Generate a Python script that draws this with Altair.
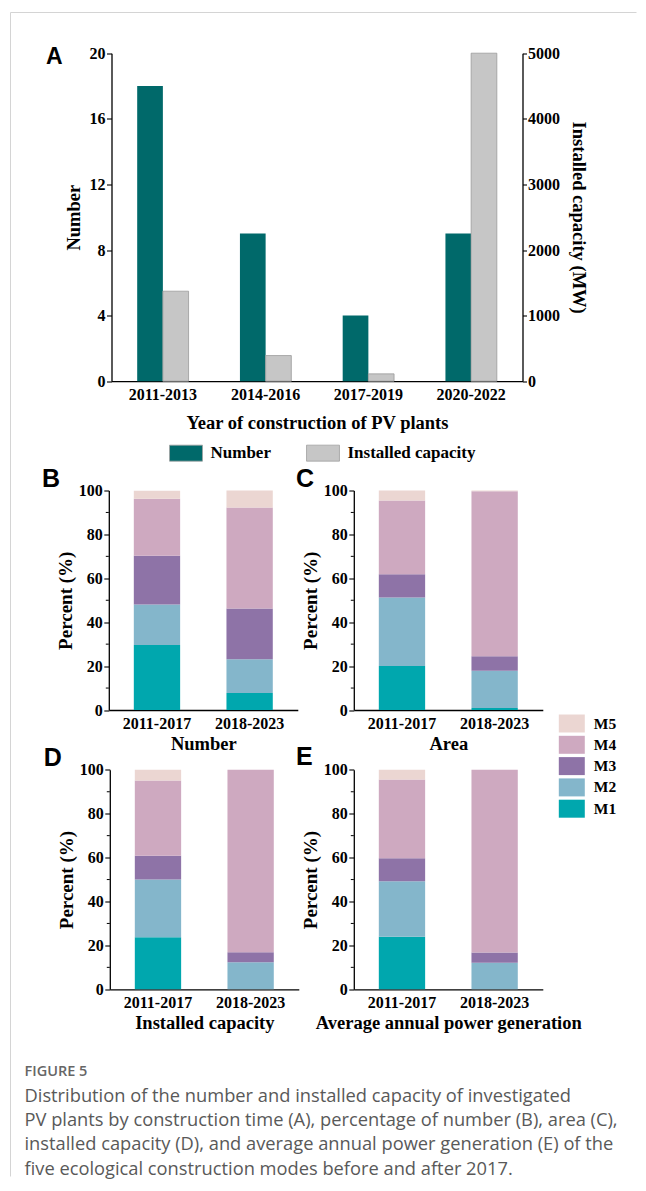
import altair as alt
import pandas as pd

SERIF = "Liberation Serif"
SANS = "Liberation Sans"
CAPF = "Open Sans"
BORDER = "#d4d4d4"

# ---------------- data ----------------
periods_a = ["2011-2013", "2014-2016", "2017-2019", "2020-2022"]
series_a = ["Number", "Installed capacity"]
number_a = [18, 9, 4, 9]
capacity_a = [1372, 391, 112, 5000]

periods_b = ["2011-2017", "2018-2023"]
modes = ["M1", "M2", "M3", "M4", "M5"]
number_early = [29.6, 18.5, 22.2, 25.9, 3.7]
number_late = [7.7, 15.4, 23.1, 46.1, 7.7]
area_early = [20.0, 31.2, 10.6, 33.7, 4.5]
area_late = [0.9, 17.0, 6.6, 75.2, 0.3]
capac_early = [23.7, 26.3, 10.8, 34.3, 4.9]
capac_late = [0.0, 12.3, 4.6, 83.1, 0.0]
gener_early = [23.9, 25.3, 10.5, 35.9, 4.4]
gener_late = [0.0, 12.1, 4.7, 83.2, 0.0]
major_ticks = [0, 20, 40, 60, 80, 100]
minor_ticks = [10, 30, 50, 70, 90]

TEAL = "#00696a"
GRAY = "#c6c6c6"
mode_colors = ["#00a7ae", "#84b6cb", "#8e73a7", "#cea9c0", "#ebd6d2"]

cap_heading = "FIGURE 5"
cap_lines = [
    "Distribution of the number and installed capacity of investigated",
    "PV plants by construction time (A), percentage of number (B), area (C),",
    "installed capacity (D), and average annual power generation (E) of the",
    "five ecological construction modes before and after 2017.",
]

# ---------------- canvas geometry (one plot area holding all panels) ----------------
W, H = 626, 1164


def one(**kw):
    return pd.DataFrame({k: [v] for k, v in kw.items()})


def rule(**enc):
    return alt.Chart(one(k=0)).mark_rule(color=BORDER, strokeWidth=1).encode(
        **{k: alt.value(v) for k, v in enc.items()})


def letter(t, x, y, size=25):
    return alt.Chart(one(t=t)).mark_text(
        font=SANS, fontWeight="bold", fontSize=size, align="left",
        baseline="alphabetic", color="black").encode(
        x=alt.value(x), y=alt.value(y), text="t:N")


# ---------------- panel A ----------------
AX0, AX1, AYB, AYT = 101, 512, 368.7, 40.7
df_num = pd.DataFrame({"period": periods_a, "series": "Number", "value": number_a})
df_cap = pd.DataFrame({"period": periods_a, "series": "Installed capacity", "value": capacity_a})

x_scale_a = alt.Scale(domain=periods_a, range=[AX0, AX1], paddingInner=0.5, paddingOuter=0.25)


def x_axis_a():
    return alt.Axis(title="Year of construction of PV plants", labelAngle=0,
                    orient="bottom", offset=-(H - AYB),
                    ticks=False, tickSize=0, labelPadding=5, titlePadding=11,
                    labelFontSize=16, titleFontSize=18.5)


xoA = alt.XOffset("series:N", scale=alt.Scale(domain=series_a))
colA = alt.Color("series:N", scale=alt.Scale(domain=series_a, range=[TEAL, GRAY]),
                 legend=alt.Legend(title=None, orient="none", legendX=167, legendY=431.7,
                                   direction="horizontal",
                                   symbolType="M-2.06,-1H2.06V1H-2.06Z", symbolSize=256,
                                   symbolStrokeColor="#a0a0a0", symbolStrokeWidth=0.8,
                                   symbolOpacity=1,
                                   labelFont=SERIF, labelFontWeight="bold", labelFontSize=17,
                                   labelColor="black", labelOffset=16, columnPadding=33))

bars_num = alt.Chart(df_num).mark_bar().encode(
    x=alt.X("period:N", sort=periods_a, scale=x_scale_a, axis=x_axis_a()),
    xOffset=xoA,
    y=alt.Y("value:Q", scale=alt.Scale(domain=[0, 20], nice=False, range=[AYB, AYT]),
            axis=alt.Axis(title="Number", values=[0, 4, 8, 12, 16, 20], orient="left",
                          offset=-AX0, tickSize=5, labelPadding=1.5, titlePadding=6,
                          labelFontSize=16, titleFontSize=18.5)),
    color=colA)
bars_cap = alt.Chart(df_cap).mark_bar(stroke="#9b9b9b", strokeWidth=0.8).encode(
    x=alt.X("period:N", sort=periods_a, scale=x_scale_a, axis=x_axis_a()),
    xOffset=xoA,
    y=alt.Y("value:Q", scale=alt.Scale(domain=[0, 5000], nice=False, range=[AYB, AYT]),
            axis=alt.Axis(title="Installed capacity (MW)", orient="right", format="d",
                          offset=-(W - AX1),
                          values=[0, 1000, 2000, 3000, 4000, 5000], tickSize=4,
                          labelPadding=1, titlePadding=9, labelFontSize=16,
                          titleFontSize=18.5)),
    color=colA)
A = alt.layer(bars_num, bars_cap).resolve_scale(y="independent").resolve_axis(y="independent")

# ---------------- panels B-E ----------------
P_W, P_H = 189, 219.5
modes_rev = modes[::-1]
colors_rev = mode_colors[::-1]


def stack_panel(early, late, x0, ytop, caption, legend=None):
    ybot = ytop + P_H
    rows = []
    for per, vals in zip(periods_b, [early, late]):
        for k, (m, v) in enumerate(zip(modes, vals)):
            rows.append({"period": per, "mode": m, "value": v, "ord": k})
    df = pd.DataFrame(rows)
    yscale = alt.Scale(domain=[0, 100], nice=False, range=[ybot, ytop])
    yaxis = alt.Axis(title="Percent (%)", values=major_ticks, orient="left", offset=-x0,
                     tickSize=5, labelPadding=1.5, titlePadding=3, labelFontSize=16,
                     titleFontSize=19)
    bars = alt.Chart(df).mark_bar().encode(
        x=alt.X("period:N", sort=periods_b,
                scale=alt.Scale(domain=periods_b, range=[x0, x0 + P_W],
                                paddingInner=0.5, paddingOuter=0.27),
                axis=alt.Axis(title=caption, labelAngle=0, orient="bottom",
                              offset=-(H - ybot), ticks=False, tickSize=0,
                              labelPadding=5.5, titlePadding=3, labelFontSize=16,
                              titleFontSize=18.5)),
        y=alt.Y("value:Q", stack="zero", scale=yscale, axis=yaxis),
        color=alt.Color("mode:N", scale=alt.Scale(domain=modes_rev, range=colors_rev),
                        legend=legend),
        order=alt.Order("ord:Q"),
    )
    minor = alt.Chart(pd.DataFrame({"value": minor_ticks})).mark_rule(
        color="black", strokeWidth=1).encode(
        y=alt.Y("value:Q", scale=yscale, axis=yaxis),
        x=alt.value(x0), x2=alt.value(x0 - 3))
    return alt.layer(bars, minor)


legend_m = alt.Legend(title=None, orient="none", legendX=552.3, legendY=702,
                      symbolType="M-1.444,-1H1.444V1H-1.444Z", symbolSize=324,
                      symbolOpacity=1, symbolStrokeWidth=0,
                      labelFont=SERIF, labelFontWeight="bold", labelFontSize=15.5,
                      labelColor="black", labelOffset=13, rowPadding=3.3)

B = stack_panel(number_early, number_late, 98.3, 478, "Number")
C = stack_panel(area_early, area_late, 343.3, 478, "Area", legend=legend_m)
D = stack_panel(capac_early, capac_late, 99.3, 757.3, "Installed capacity")
E = stack_panel(gener_early, gener_late, 343.3, 757.3, "Average annual power generation")

# ---------------- caption ----------------
cap_df = pd.DataFrame({"i": [1, 2, 3, 4], "line": cap_lines})
head_df = pd.DataFrame({"line": [cap_heading]})

head_text = alt.Chart(head_df).mark_text(
    font=CAPF, fontSize=14.5, fontWeight=600, color="#666666", align="left",
    baseline="alphabetic").encode(x=alt.value(14), y=alt.value(1063.5), text="line:N")
cap_text = alt.Chart(cap_df).mark_text(
    font=CAPF, fontSize=18.3, color="#595959", align="left",
    baseline="alphabetic").encode(
    x=alt.value(14),
    y=alt.Y("i:Q", scale=alt.Scale(domain=[1, 4], range=[1089, 1162]), axis=None),
    text="line:N")

chart = alt.layer(
    rule(x=0, x2=W, y=0),
    rule(x=0, y=0, y2=H),
    A, B, C, D, E,
    letter("A", 35.5, 51.3, 23),
    letter("B", 31.5, 474.7),
    letter("C", 285.4, 474.7),
    letter("D", 33.3, 753),
    letter("E", 285.4, 752),
    head_text, cap_text,
).resolve_scale(
    x="independent", y="independent", color="independent", xOffset="independent"
).resolve_axis(x="independent", y="independent").resolve_legend(
    color="independent"
).properties(
    width=W, height=H,
    padding={"left": 1.5, "top": 3.5, "right": 0, "bottom": 0},
).configure_axis(
    labelFont=SERIF, titleFont=SERIF, labelFontWeight="bold", titleFontWeight="bold",
    labelColor="black", titleColor="black", domainColor="black", tickColor="black",
    domainWidth=1.3, tickWidth=1.1, grid=False,
).configure_view(stroke=None)

chart.save("out.html", embed_options={"renderer": "svg", "actions": False})
